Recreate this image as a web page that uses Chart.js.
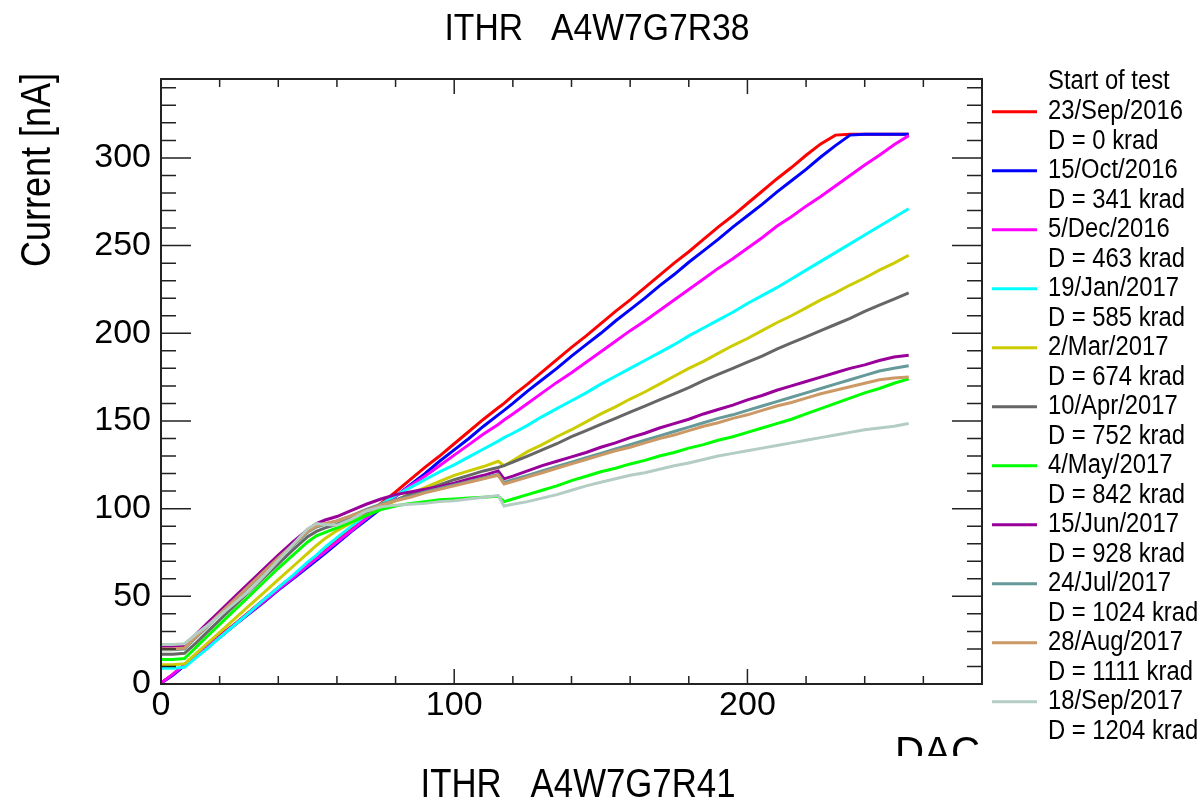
<!DOCTYPE html>
<html>
<head>
<meta charset="utf-8">
<title>ITHR A4W7G7R38</title>
<script src="https://cdn.jsdelivr.net/npm/chart.js@4.4.1/dist/chart.umd.min.js"></script>
<style>
  html, body { margin: 0; padding: 0; background: #fff; }
  canvas { display: block; }
</style>
</head>
<body>
<canvas id="chart" width="1204" height="800"></canvas>
<script>
// DAC setting (x) and measured current in nA (y), one array per test date
const dac = [0, 4, 8, 12, 16, 20, 25, 30, 35, 40, 45, 50, 53, 56, 60, 65, 70, 75, 80, 85, 90, 95, 100, 105, 110, 115, 117,
  120, 125, 130, 135, 140, 145, 150, 155, 160, 165, 170, 175, 180, 185, 190, 195, 200, 205, 210, 215, 220, 225, 230, 235, 240, 245, 250, 255]

const sep2016 = [0.5, 5.5, 11, 16.5, 22, 27.5, 34, 41, 48, 55, 61.5, 68.5, 72.5, 77, 82, 89, 96, 103, 109.5, 116.5, 123.5, 130, 137, 144, 151, 157.5, 160,
  164.5, 171, 178, 185, 192, 198.5, 205.5, 212.5, 219, 226, 233, 240, 246.5, 253.5, 260.5, 267, 274, 281, 288, 294.5, 301.5, 308, 313, 313.5, 313.5, 313.5, 313.5, 313.5]
const oct2016 = [0.5, 5, 10.5, 16, 21.5, 26.5, 33.5, 40, 46.5, 53.5, 60, 66.5, 70.5, 74.5, 80, 87, 93.5, 100, 107, 113.5, 120, 127, 133.5, 140, 147, 153.5, 156,
  160, 167, 173.5, 180, 187, 193.5, 200, 207, 213.5, 220, 227, 233.5, 240.5, 247, 253.5, 260.5, 267, 273.5, 280.5, 287, 293.5, 300.5, 307, 313, 313.5, 313.5, 313.5, 313.5]
const dec2016 = [0.5, 5.5, 11, 16, 21.5, 27, 33.5, 40.5, 47, 54, 60.5, 67.5, 71.5, 75.5, 81, 87.5, 94.5, 101, 107, 113, 118.5, 124.5, 130.5, 136.5, 142.5, 148, 150.5,
  154, 160, 166, 172, 177.5, 183.5, 189.5, 195.5, 201.5, 207, 213, 219, 225, 231, 237, 242.5, 248.5, 254.5, 261, 266.5, 272.5, 278, 284, 290, 296, 301.5, 307.5, 312.7]
const jan2017 = [9, 9, 9.5, 15, 20.5, 26.5, 33.5, 40.5, 48, 55, 62, 69.5, 73.5, 78, 83.5, 90, 96.5, 102.5, 107.5, 112, 116.5, 121, 125, 129.5, 134, 138.5, 140.5,
  143, 147.5, 152.5, 157, 161.5, 166, 171, 175.5, 180, 184.5, 189, 193.5, 198.5, 203, 207.5, 212, 217, 221.5, 226, 231, 236, 241, 246, 251, 256, 261, 266, 271]
const mar2017 = [11, 11, 11.5, 17.5, 23.5, 29.5, 37, 44.5, 52, 59.5, 67, 74.5, 79, 83, 87.5, 92, 96.5, 100.5, 104.5, 108.5, 112, 115.5, 119, 121.5, 124, 127, 124.5,
  127.5, 132.5, 136.5, 141, 145, 149.5, 154, 158, 162.5, 166.5, 171, 175.5, 180, 184, 188.5, 193, 197, 201.5, 206, 210, 214.5, 219, 223, 227.5, 231.5, 236, 240, 244.5]
const apr2017 = [17, 17, 17.5, 23.5, 30, 36.5, 44.5, 52.5, 60.5, 68.5, 76.5, 84, 87, 89, 91, 94.5, 98, 101.5, 105, 108, 110.5, 113.5, 116.5, 119, 121.5, 123.5, 124.5,
  126.5, 130, 133.5, 137, 141, 144.5, 148, 151.5, 155, 158.5, 162, 165.5, 169, 173, 176.5, 180, 183.5, 187, 191, 194.5, 198, 201.5, 205, 208.5, 212.5, 216, 219.5, 223]
const may2017 = [14, 14, 14.5, 21, 27.5, 34, 42, 50, 58, 66, 73.5, 81, 84.5, 86.5, 89, 92.5, 96, 99.5, 101.5, 103, 104, 105, 105.5, 106, 106.5, 107, 104,
  105.5, 108, 110.5, 113, 116, 118.5, 121, 123, 125.5, 127.5, 130, 132, 134.5, 136.5, 139, 141, 143.5, 146, 148.5, 151, 154, 157, 160, 163, 166, 168.5, 171.5, 174]
const jun2017 = [21.5, 21.5, 22, 28.5, 35, 41.5, 49.5, 57.5, 65.5, 73.5, 81, 88, 91.5, 93.5, 95.5, 99, 102.5, 105.5, 108, 109.5, 111, 112.5, 114.5, 117, 119, 121.5, 117,
  118.5, 121.5, 124.5, 127, 129.5, 132, 135, 137.5, 140.5, 143, 146, 148.5, 151, 154, 156.5, 159, 162, 164.5, 167.5, 170, 172.5, 175, 177.5, 180, 182, 184.5, 186.5, 187.5]
const jul2017 = [19.5, 19.5, 20, 26.5, 33, 39.5, 47.5, 55.5, 63.5, 71.5, 79, 86.5, 89.5, 91, 93, 96, 99.5, 102.5, 105, 107, 109.5, 111.5, 113.5, 115.5, 117.5, 119.5, 115,
  116.5, 119, 121.5, 124, 126.5, 129, 131.5, 134, 136.5, 139, 141.5, 144, 146.5, 149, 151.5, 153.5, 156, 158.5, 161, 163.5, 166, 168.5, 171, 173.5, 176, 178.5, 180, 181.5]
const aug2017 = [20, 20, 20.5, 27, 33.5, 40, 48, 56, 64, 72, 79.5, 87, 90, 91.5, 93, 96, 99, 102, 104.5, 106.5, 109, 111, 113, 115, 117, 119, 114,
  115.5, 118, 120.5, 123, 125.5, 128, 130.5, 133, 135, 137.5, 140, 142, 144.5, 147, 149, 151.5, 153.5, 156, 158.5, 160.5, 163, 165.5, 167.5, 169.5, 171.5, 173.5, 174.5, 175]
const sep2017 = [22.5, 22.5, 23, 28.5, 33.5, 39, 46, 53, 61.5, 70.5, 79.5, 88.5, 91.5, 91, 90.5, 94, 98.5, 101, 102, 102.5, 103, 104, 104.5, 105.5, 106.5, 107.5, 101.5,
  102.5, 104, 106, 108, 110.5, 113, 115, 117, 119, 120.5, 122.5, 124.5, 126, 128, 130, 131.5, 133, 134.5, 136, 137.5, 139, 140.5, 142, 143.5, 145, 146, 147, 148.5]

const startDates = ["23/Sep/2016", "15/Oct/2016", "5/Dec/2016", "19/Jan/2017", "2/Mar/2017", "10/Apr/2017",
  "4/May/2017", "15/Jun/2017", "24/Jul/2017", "28/Aug/2017", "18/Sep/2017"]
const doses = ["D = 0 krad", "D = 341 krad", "D = 463 krad", "D = 585 krad", "D = 674 krad", "D = 752 krad",
  "D = 842 krad", "D = 928 krad", "D = 1024 krad", "D = 1111 krad", "D = 1204 krad"]

const series = [sep2016, oct2016, dec2016, jan2017, mar2017, apr2017, may2017, jun2017, jul2017, aug2017, sep2017]
const colors = ["#ff0000", "#0000ff", "#ff00ff", "#00ffff", "#cccc00", "#666666",
  "#00ff00", "#990099", "#669999", "#cc9966", "#b3cdc3"]

const FONT = '"Liberation Sans", Arial, sans-serif'

// draw text squeezed horizontally to a given width (ROOT helvetica looks narrow)
function squeezed(ctx, text, x, y, size, width, align, angle) {
  ctx.save()
  ctx.font = size + "px " + FONT
  const sx = width ? width / ctx.measureText(text).width : 1
  ctx.translate(x, y)
  if (angle) ctx.rotate(angle)
  ctx.scale(sx, 1)
  ctx.textAlign = align || "left"
  ctx.fillText(text, 0, 0)
  ctx.restore()
}

const rootStyle = {
  id: "rootStyle",
  afterDatasetsDraw(chart) {
    const { ctx, chartArea: a, scales: { x, y } } = chart
    ctx.save()
    ctx.strokeStyle = "#222"
    ctx.lineWidth = 1.5
    ctx.beginPath()
    for (let v = 0; v <= 340; v += 10) {
      const py = y.getPixelForValue(v)
      const len = v % 50 === 0 ? 30 : 15
      ctx.moveTo(a.left, py)
      ctx.lineTo(a.left + len, py)
      ctx.moveTo(a.right, py)
      ctx.lineTo(a.right - len, py)
    }
    for (let v = 0; v <= 280; v += 20) {
      const px = x.getPixelForValue(v)
      const len = v % 100 === 0 ? 15 : 8
      ctx.moveTo(px, a.bottom)
      ctx.lineTo(px, a.bottom - len)
      ctx.moveTo(px, a.top)
      ctx.lineTo(px, a.top + len)
    }
    ctx.stroke()
    ctx.lineWidth = 2
    ctx.strokeRect(a.left, a.top, a.right - a.left, a.bottom - a.top)
    ctx.restore()
  },
  afterDraw(chart) {
    const ctx = chart.ctx
    ctx.save()
    ctx.fillStyle = "#000"
    ctx.textBaseline = "alphabetic"
    squeezed(ctx, "ITHR   A4W7G7R38", 597, 40, 36, 305, "center")
    squeezed(ctx, "Current [nA]", 50, 170, 42, 194, "center", -Math.PI / 2)

    // x title is cut by the pad edge in the original
    ctx.save()
    ctx.beginPath()
    ctx.rect(0, 0, 1204, 756)
    ctx.clip()
    squeezed(ctx, "DAC", 980, 766, 42, 85, "right")
    ctx.restore()

    // next pad's title peeking in at the bottom
    squeezed(ctx, "ITHR   A4W7G7R41", 578, 797, 40, 315, "center")

    // legend
    ctx.font = "27px " + FONT
    const sx = 135 / ctx.measureText("23/Sep/2016").width
    ctx.textBaseline = "middle"
    const lineH = 29.5
    squeezed(ctx, "Start of test", 1048, 81.7, 27, ctx.measureText("Start of test").width * sx, "left")
    startDates.forEach((d, i) => {
      const yy = 111.7 + i * 2 * lineH
      ctx.strokeStyle = colors[i]
      ctx.lineWidth = 3
      ctx.beginPath()
      ctx.moveTo(992, yy)
      ctx.lineTo(1037, yy)
      ctx.stroke()
      ctx.font = "27px " + FONT
      squeezed(ctx, d, 1048, yy, 27, ctx.measureText(d).width * sx, "left")
      ctx.font = "27px " + FONT
      squeezed(ctx, doses[i], 1048, yy + lineH, 27, ctx.measureText(doses[i]).width * sx, "left")
      ctx.font = "27px " + FONT
    })
    ctx.restore()
  }
}

new Chart(document.getElementById("chart"), {
  type: "line",
  data: {
    datasets: series.map((s, i) => ({
      label: startDates[i],
      data: dac.map((d, j) => ({ x: d, y: s[j] })),
      borderColor: colors[i],
      borderWidth: 3,
      pointRadius: 0,
      tension: 0,
      fill: false,
      order: series.length - i,
    })),
  },
  options: {
    responsive: false,
    animation: false,
    layout: { padding: { top: 79, right: 222, left: 0, bottom: 0 } },
    plugins: {
      legend: { display: false },
      title: { display: false },
      tooltip: { enabled: false },
    },
    scales: {
      x: {
        type: "linear",
        min: 0,
        max: 280,
        grid: { display: false, drawTicks: false },
        border: { display: false },
        ticks: {
          stepSize: 100,
          includeBounds: false,
          autoSkip: false,
          maxRotation: 0,
          padding: 1,
          color: "#000",
          font: { family: FONT, size: 34 },
        },
        afterFit: (scale) => { scale.height = 116 },
      },
      y: {
        min: 0,
        max: 345,
        grid: { display: false, drawTicks: false },
        border: { display: false },
        ticks: {
          stepSize: 50,
          includeBounds: false,
          padding: 10,
          color: "#000",
          font: { family: FONT, size: 34 },
        },
        afterFit: (scale) => { scale.width = 161 },
      },
    },
  },
  plugins: [rootStyle],
})
</script>
</body>
</html>
